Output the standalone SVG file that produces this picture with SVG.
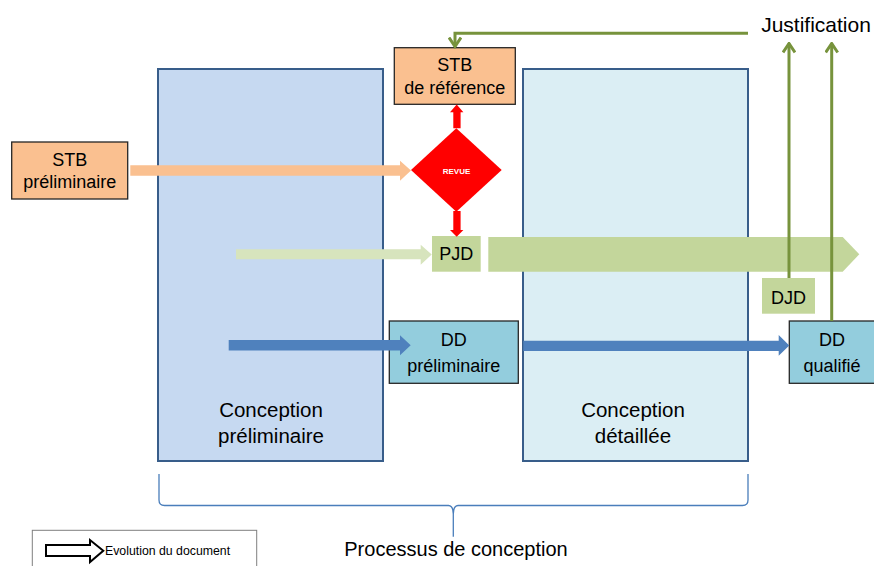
<svg xmlns="http://www.w3.org/2000/svg" width="874" height="566" viewBox="0 0 874 566">
<defs>
<style>
text{font-family:"Liberation Sans",Arial,sans-serif;fill:#000;text-anchor:middle}
.lbl{font-size:18px}
.big{font-size:20.5px}
.phase{stroke:#385D8A;stroke-width:2}
.stb{fill:#FAC090;stroke:#262626;stroke-width:1.3}
.dd{fill:#93CDDD;stroke:#262626;stroke-width:1.3}
.pj{fill:#C3D69B}
.just{fill:none;stroke:#77933C;stroke-width:3}
</style>
<marker id="chev" markerUnits="userSpaceOnUse" viewBox="0 0 12 14" markerWidth="12" markerHeight="14" refX="10" refY="7" orient="auto">
<path d="M1,1 L10,7 L1,13" fill="none" stroke="#77933C" stroke-width="3"/>
</marker>
</defs>
<rect width="874" height="566" fill="#fff"/>

<g id="conception-preliminaire">
<rect class="phase" x="158" y="69" width="225" height="392" fill="#C6D9F1"/>
<text class="big" x="271" y="416.5">Conception</text>
<text class="big" x="271" y="443">préliminaire</text>
</g>
<g id="conception-detaillee">
<rect class="phase" x="523" y="69" width="225" height="392" fill="#DBEEF4"/>
<text class="big" x="633" y="416.5">Conception</text>
<text class="big" x="633" y="443">détaillée</text>
</g>

<g id="stb-preliminaire">
<rect class="stb" x="11.7" y="142" width="116" height="57"/>
<text class="lbl" x="69.7" y="165.5">STB</text>
<text class="lbl" x="69.7" y="188">préliminaire</text>
</g>
<g id="stb-reference">
<rect class="stb" x="394.3" y="47.7" width="121" height="56.6"/>
<text class="lbl" x="454.8" y="71">STB</text>
<text class="lbl" x="454.8" y="94">de référence</text>
</g>
<g id="revue">
<polygon points="456.3,128.3 501.7,170 456.3,211.7 411,170" fill="#FF0000"/>
<text x="456.5" y="173.8" style="font-size:8px;font-weight:bold;fill:#fff">REVUE</text>
</g>
<g id="pjd">
<rect class="pj" x="432" y="236" width="48.7" height="35.7"/>
<text class="lbl" x="456.3" y="260">PJD</text>
</g>
<g id="djd">
<rect class="pj" x="762" y="278" width="53" height="35.7"/>
<text class="lbl" x="788.5" y="303.5">DJD</text>
</g>
<g id="dd-preliminaire">
<rect class="dd" x="389.3" y="321" width="129" height="62.3"/>
<text class="lbl" x="453.8" y="346">DD</text>
<text class="lbl" x="453.8" y="372">préliminaire</text>
</g>
<g id="dd-qualifie">
<rect class="dd" x="789.3" y="321" width="90" height="62.3"/>
<text class="lbl" x="832" y="346">DD</text>
<text class="lbl" x="832" y="372">qualifié</text>
</g>
<g id="justification">
<text x="816" y="32" style="font-size:21px">Justification</text>
</g>
<g id="processus">
<path d="M159,474 L159,500 Q159,505.5 164.5,505.5 L448.5,505.5 Q453.3,506 453.3,514 L453.3,536.7 M453.3,514 Q453.3,506 458,505.5 L742.5,505.5 Q748,505.5 748,500 L748,474" fill="none" stroke="#4A7EBB" stroke-width="1.3"/>
<text x="456" y="556" style="font-size:20px">Processus de conception</text>
</g>
<g id="legende">
<rect x="32.3" y="530.3" width="224.4" height="45" fill="#fff" stroke="#7F7F7F" stroke-width="1"/>
<path d="M46,545 L90,545 L90,540 L103.3,550.8 L90,562 L90,556 L46,556 Z" fill="#fff" stroke="#000" stroke-width="2"/>
<text x="105" y="554.5" style="font-size:12.3px;text-anchor:start">Evolution du document</text>
</g>

<g id="connectors">
<polygon points="130.3,165.3 400,165.3 400,160.7 411,170.5 400,180.7 400,175.7 130.3,175.7" fill="#FAC090"/>
<polygon points="236,249.3 420.7,249.3 420.7,244.7 431.7,254.5 420.7,264.7 420.7,259.3 236,259.3" fill="#D7E4BD"/>
<polygon points="228.7,340 400,340 400,335.3 410.7,345.3 400,355.3 400,350.5 228.7,350.5" fill="#4F81BD"/>
<polygon points="523.3,340.7 778.7,340.7 778.7,335 789.3,345.5 778.7,355.7 778.7,351 523.3,351" fill="#4F81BD"/>
<polygon points="488.3,237 842.7,237 859.3,254.3 842.7,271.7 488.3,271.7" fill="#C3D69B"/>
<polygon points="453.3,128.3 453.3,112.3 450,112.3 456.7,104.4 463.4,112.3 460.6,112.3 460.6,128.3" fill="#FF0000"/>
<polygon points="453.3,211 453.3,230 450,230 456.7,236.7 463.4,230 460.6,230 460.6,211" fill="#FF0000"/>
<path class="just" d="M748,33.3 L455,33.3 L455,46.5" marker-end="url(#chev)"/>
<path class="just" d="M789,278 L789,43.5" marker-end="url(#chev)"/>
<path class="just" d="M831.7,321 L831.7,43.5" marker-end="url(#chev)"/>
</g>
</svg>
